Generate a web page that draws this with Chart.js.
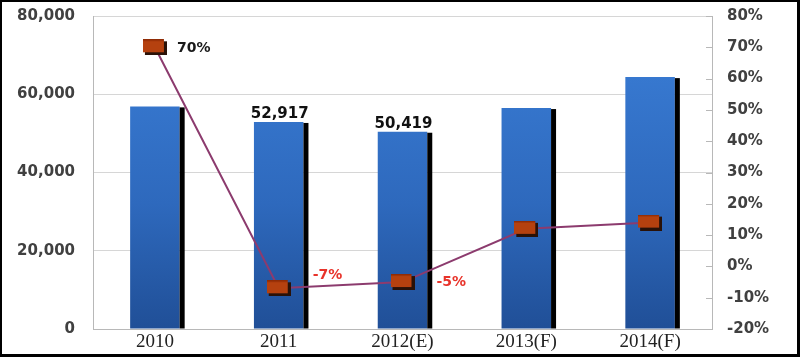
<!DOCTYPE html>
<html>
<head>
<meta charset="utf-8">
<script src="https://cdn.jsdelivr.net/npm/chart.js@4/dist/chart.umd.min.js"></script>
<style>
html,body{margin:0;padding:0;background:#fff;}
#wrap{width:800px;height:357px;position:relative;}
</style>
</head>
<body>
<div id="wrap"><canvas id="c" width="800" height="357"></canvas></div>
<script>
// ---- data ----
const categories = ['2010', '2011', '2012(E)', '2013(F)', '2014(F)'];
const volumeValues = [56900, 52917, 50419, 56470, 64380];
const volumeLabels = [null, '52,917', '50,419', null, null];
const growthValues = [70, -7, -5, 12, 14];
const growthLabels = ['70%', '-7%', '-5%', null, null];
const leftTicks = [0, 20000, 40000, 60000, 80000];
const rightTicks = [-20, -10, 0, 10, 20, 30, 40, 50, 60, 70, 80];

// ---- styles (not data) ----
const growthLabelStyle = [
  {dx: 22, dy: 1, color: '#1a1a1a', align: 'left'},
  {dx: 34, dy: -13, color: '#e8332a', align: 'left'},
  {dx: 34, dy: 0, color: '#e8332a', align: 'left'},
  null, null
];

function makeMarker(){
  const cv = document.createElement('canvas');
  cv.width = 24; cv.height = 16;
  const g = cv.getContext('2d');
  g.fillStyle = '#2a1208';
  g.fillRect(2, 2, 22, 14);
  g.fillStyle = '#b5410f';
  g.fillRect(0, 0, 21, 13);
  g.fillStyle = 'rgba(120,30,0,0.6)';
  g.fillRect(0, 0, 21, 1.5);
  return cv;
}
const marker = makeMarker();

const barShadow = {
  id: 'barShadow',
  afterDatasetDraw(chart, args) {
    if (args.index !== 0) return;
    const ctx = chart.ctx;
    const meta = chart.getDatasetMeta(0);
    ctx.save();
    ctx.fillStyle = '#000';
    meta.data.forEach(bar => {
      const right = bar.x + bar.width / 2;
      ctx.fillRect(right, bar.y + 1, 5, bar.base - bar.y - 1);
    });
    ctx.restore();
  }
};

const labelsPlugin = {
  id: 'labelsPlugin',
  afterDatasetsDraw(chart) {
    const ctx = chart.ctx;
    ctx.save();
    const bmeta = chart.getDatasetMeta(0);
    ctx.font = 'bold 15px "DejaVu Sans", sans-serif';
    ctx.fillStyle = '#111';
    ctx.textAlign = 'center';
    ctx.textBaseline = 'alphabetic';
    bmeta.data.forEach((bar, i) => {
      if (!volumeLabels[i]) return;
      ctx.fillText(volumeLabels[i], bar.x + 1, bar.y - 4);
    });
    const lmeta = chart.getDatasetMeta(1);
    ctx.textBaseline = 'middle';
    ctx.font = 'bold 14px "DejaVu Sans", sans-serif';
    lmeta.data.forEach((pt, i) => {
      const st = growthLabelStyle[i];
      if (!growthLabels[i] || !st) return;
      ctx.fillStyle = st.color;
      ctx.textAlign = st.align;
      ctx.fillText(growthLabels[i], pt.x + st.dx, pt.y + st.dy);
    });
    ctx.restore();
  }
};

const frame = {
  id: 'frame',
  beforeDraw(chart) {
    const ctx = chart.ctx;
    ctx.save();
    ctx.fillStyle = '#fff';
    ctx.fillRect(0, 0, chart.width, chart.height);
    ctx.restore();
  },
  afterDraw(chart) {
    const ctx = chart.ctx;
    const ca = chart.chartArea;
    ctx.save();
    const y1 = chart.scales.y1;
    ctx.strokeStyle = '#b8b8b8';
    ctx.lineWidth = 1;
    rightTicks.forEach(v => {
      const y = Math.round(y1.getPixelForValue(v)) + 0.5;
      ctx.beginPath();
      ctx.moveTo(ca.right - 6, y);
      ctx.lineTo(ca.right, y);
      ctx.stroke();
    });
    ctx.fillStyle = '#000';
    ctx.fillRect(0, 0, chart.width, 2);
    ctx.fillRect(0, 0, 2, chart.height);
    ctx.fillRect(0, chart.height - 3, chart.width, 3);
    ctx.fillRect(chart.width - 3, 0, 3, chart.height);
    ctx.restore();
  }
};

function fixV(w) {
  return function(s) { s.width = w; s.paddingTop = 0; s.paddingBottom = 0; };
}

const ctx = document.getElementById('c').getContext('2d');
new Chart(ctx, {
  data: {
    labels: categories,
    datasets: [
      {
        type: 'bar',
        data: volumeValues,
        yAxisID: 'y',
        order: 2,
        barPercentage: 0.4,
        categoryPercentage: 1,
        backgroundColor(c) {
          const ca = c.chart.chartArea;
          if (!ca) return '#2f6ec4';
          const g = c.chart.ctx.createLinearGradient(0, ca.top, 0, ca.bottom);
          g.addColorStop(0, '#3b7fd8');
          g.addColorStop(0.6, '#2e69bd');
          g.addColorStop(1, '#204f97');
          return g;
        },
        borderWidth: 0
      },
      {
        type: 'line',
        data: growthValues,
        yAxisID: 'y1',
        order: 1,
        borderColor: '#8c3b6e',
        borderWidth: 2,
        tension: 0,
        pointStyle: marker,
        pointRadius: 10,
        pointHoverRadius: 10
      }
    ]
  },
  options: {
    responsive: false,
    animation: false,
    events: [],
    layout: {padding: {top: 16, left: 0, right: 0, bottom: 0}},
    plugins: {legend: {display: false}, tooltip: {enabled: false}},
    scales: {
      x: {
        offset: true,
        grid: {display: false, drawTicks: false},
        border: {display: true, color: '#b8b8b8', width: 1},
        ticks: {
          color: '#222',
          font: {family: '"Liberation Serif", serif', size: 19},
          padding: 2,
          maxRotation: 0
        },
        afterFit(s) { s.height = 28; s.paddingLeft = 0; s.paddingRight = 0; }
      },
      y: {
        position: 'left',
        min: 0, max: 80000,
        afterBuildTicks(s) { s.ticks = leftTicks.map(v => ({value: v})); },
        grid: {color: '#d6d6d6', drawTicks: false},
        border: {display: true, color: '#b8b8b8'},
        ticks: {
          color: '#404040',
          font: {family: '"DejaVu Sans", sans-serif', size: 15, weight: 'bold'},
          padding: 18,
          callback: v => v.toLocaleString('en-US')
        },
        afterFit: fixV(93)
      },
      y1: {
        position: 'right',
        min: -20, max: 80,
        afterBuildTicks(s) { s.ticks = rightTicks.map(v => ({value: v})); },
        grid: {drawOnChartArea: false, drawTicks: false},
        border: {display: true, color: '#b8b8b8'},
        ticks: {
          color: '#404040',
          font: {family: '"DejaVu Sans", sans-serif', size: 15, weight: 'bold'},
          padding: 15,
          callback: v => v + '%'
        },
        afterFit: fixV(88)
      }
    }
  },
  plugins: [frame, barShadow, labelsPlugin]
});
</script>
</body>
</html>
